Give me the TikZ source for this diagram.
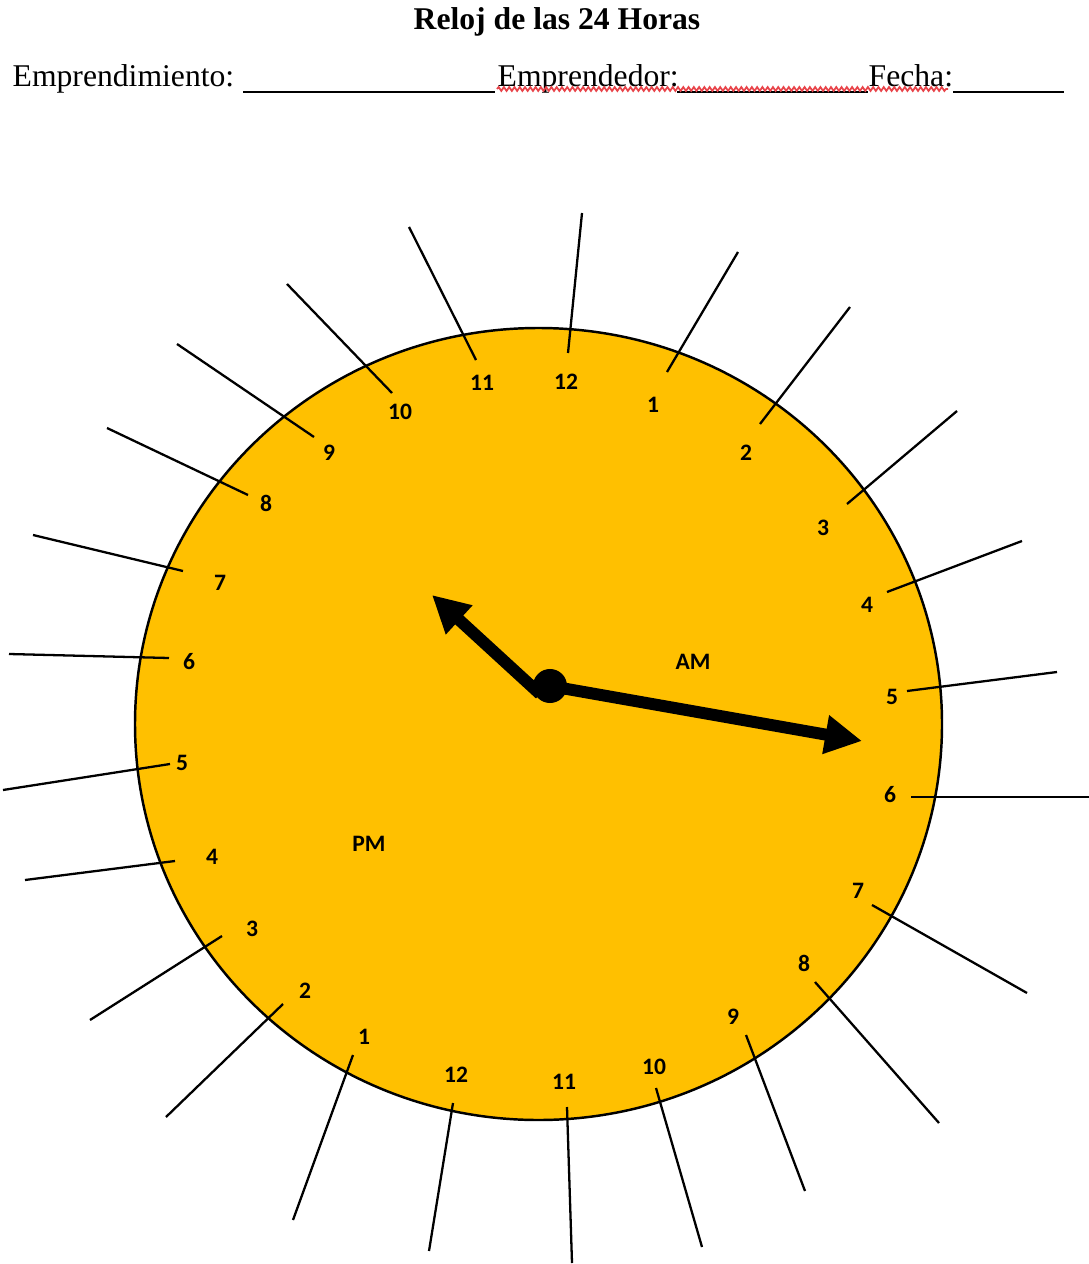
\documentclass[tikz,border=0pt]{standalone}
\usepackage{fontspec}
\usepackage{xcolor}
\usepackage{tikz}
\usetikzlibrary{positioning, arrows.meta, decorations.pathmorphing}

\newfontfamily\calibri{Carlito}
\newfontfamily\romana{Liberation Serif}
\definecolor{dorado}{HTML}{FFC000}
\definecolor{rojosub}{HTML}{E8444A}

\tikzset{
  hora/.style={font=\calibri\bfseries\fontsize{6.7}{7}\selectfont, inner sep=0pt},
  cabecera/.style={font=\romana\fontsize{9}{11}\selectfont, inner sep=0pt, anchor=base west},
  marca/.style={line width=0.65pt},
  raya/.style={line width=0.55pt},
  aguja/.style={line width=3.4pt, -{Triangle[length=10.5pt, width=10.5pt]}},
}

\begin{document}
\begin{tikzpicture}[x=0.01cm, y=-0.01cm]
\useasboundingbox (0,0) rectangle (1089,1264);

% Título
\node[font=\romana\bfseries\fontsize{9}{11}\selectfont, inner sep=0pt] (titulo) at (557,22) {Reloj de las 24 Horas};

% Datos del emprendimiento
\node[cabecera] (emprendimiento) at (12,87) {Emprendimiento:};
\node[cabecera] (emprendedor) at (497,87) {Emprendedor:};
\node[cabecera] (fecha) at (868,87) {Fecha:};
\coordinate (l1a) at (243,92); \coordinate (l1b) at (495,92);
\coordinate (l2a) at (677,92); \coordinate (l2b) at (868,92);
\coordinate (l3a) at (953,92); \coordinate (l3b) at (1064,92);
\draw[raya] (l1a) -- (l1b);
\draw[raya] (l2a) -- (l2b);
\draw[raya] (l3a) -- (l3b);
% subrayado ondulado
\coordinate (onda-a) at (497,89); \coordinate (onda-b) at (948,89);
\draw[rojosub, line width=0.5pt, decorate, decoration={snake, amplitude=0.55pt, segment length=1.5pt}] (onda-a) -- (onda-b);

% Esfera
\draw[line width=0.7pt, fill=dorado] (538.5,724) ellipse [x radius=403.5, y radius=396];

% Horas y marcas
\foreach \n/\h/\lx/\ly/\ix/\iy/\ox/\oy in {
  h0/12/566/382/568/353/582/213,
  h1/1/653/405/667/372/738/252,
  h2/2/746/453/760/424/850/307,
  h3/3/823/528/847/504/957/411,
  h4/4/867/605/887/592/1022/541,
  h5/5/892/697/907/691/1057/672,
  h6/6/890/795/911/797/1089/797,
  h7/7/858/891/872/905/1027/993,
  h8/8/804/963/815/982/939/1123,
  h9/9/733/1017/746/1035/805/1191,
  h10/10/654/1067/656/1088/702/1247,
  h11/11/564/1082/567/1107/572/1263,
  h12/12/456/1075/453/1103/429/1251,
  h13/1/364/1037/353/1055/293/1220,
  h14/2/305/991/283/1004/166/1117,
  h15/3/252/929/222/936/90/1020,
  h16/4/212/857/175/861/25/880,
  h17/5/182/763/170/764/3/790,
  h18/6/189/662/169/658/9/654,
  h19/7/220/583/183/571/33/535,
  h20/8/266/503/248/495/107/428,
  h21/9/329/453/314/437/177/344,
  h22/10/400/412/392/393/287/284,
  h23/11/482/383/476/360/409/227} {
  \node[hora] (\n) at (\lx,\ly) {\h};
  \coordinate (\n-in) at (\ix,\iy);
  \coordinate (\n-out) at (\ox,\oy);
  \draw[marca] (\n-in) -- (\n-out);
}

% AM / PM
\node[hora] (am) at (693,662) {AM};
\node[hora] (pm) at (369,844) {PM};

% Agujas
\node[circle, fill=black, inner sep=0pt, minimum size=0.34cm] (eje) at (550,686) {};
\coordinate (base-hora) at (540,694);
\coordinate (punta-hora) at (432,595);
\coordinate (punta-min) at (862,741);
\draw[aguja] (base-hora) -- (punta-hora);
\draw[aguja] (eje.center) -- (punta-min);

\end{tikzpicture}
\end{document}
